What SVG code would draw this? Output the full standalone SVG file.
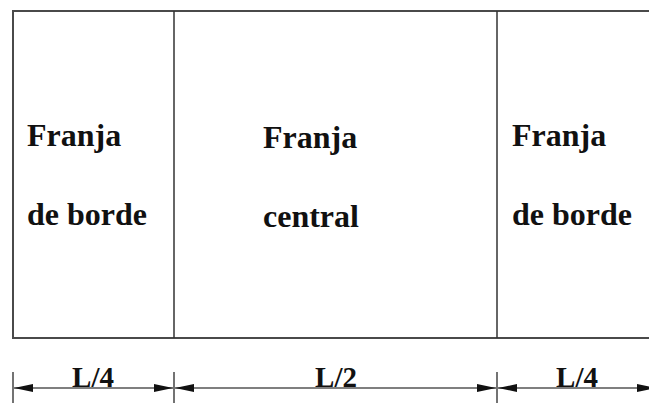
<svg xmlns="http://www.w3.org/2000/svg" width="649" height="403" viewBox="0 0 649 403">
<style>
.frame{fill:none;stroke:#4a4a4a;stroke-width:2}
.div{stroke:#333;stroke-width:1.5}
.lbl{font-family:"Liberation Serif","Times New Roman",serif;font-weight:bold;font-size:32px;fill:#111}
.dim{font-family:"Liberation Serif","Times New Roman",serif;font-weight:bold;font-size:29px;fill:#111;text-anchor:middle}
.dl{stroke:#555;stroke-width:1.5;marker-start:url(#arr);marker-end:url(#arr)}
.tick{stroke:#444;stroke-width:1.5}
</style>
<defs>
<marker id="arr" markerUnits="userSpaceOnUse" markerWidth="22" markerHeight="10" refX="19" refY="4" orient="auto-start-reverse">
<path d="M0,0 L19,4 L0,8 Z" fill="#111"/>
</marker>
</defs>
<g id="frame">
<path class="frame" d="M649,11 H13 V338 H649"/>
<line class="div" x1="174" y1="11" x2="174" y2="338"/>
<line class="div" x1="497" y1="11" x2="497" y2="338"/>
</g>
<g id="node-left">
<text class="lbl" x="27" y="146">Franja</text>
<text class="lbl" x="27" y="225">de borde</text>
</g>
<g id="node-center">
<text class="lbl" x="263" y="148">Franja</text>
<text class="lbl" x="263" y="227">central</text>
</g>
<g id="node-right">
<text class="lbl" x="512" y="146">Franja</text>
<text class="lbl" x="512" y="225">de borde</text>
</g>
<g id="connectors">
<line class="tick" x1="13" y1="372" x2="13" y2="403"/>
<line class="tick" x1="174" y1="372" x2="174" y2="403"/>
<line class="tick" x1="497" y1="372" x2="497" y2="403"/>
<line class="dl" x1="14" y1="388" x2="173" y2="388"/>
<line class="dl" x1="175" y1="388" x2="496" y2="388"/>
<line class="dl" x1="498" y1="388" x2="656" y2="388"/>
</g>
<g id="dim-labels">
<text class="dim" x="93" y="387">L/4</text>
<text class="dim" x="336" y="387">L/2</text>
<text class="dim" x="577" y="387">L/4</text>
</g>
</svg>
